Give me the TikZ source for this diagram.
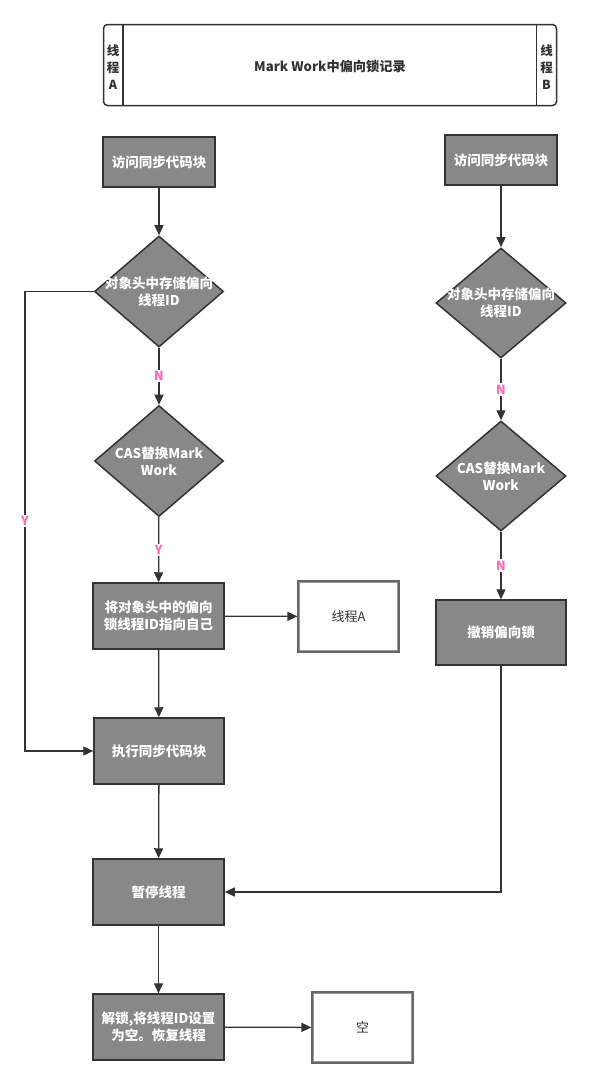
\documentclass[tikz,border=0pt]{standalone}
\usepackage{fontspec}
\setmainfont{Noto Sans CJK SC}
\usetikzlibrary{shapes.geometric,arrows.meta}
\definecolor{boxgray}{HTML}{888888}
\definecolor{edgec}{HTML}{333333}
\definecolor{labc}{HTML}{FF66B3}
\definecolor{wbord}{HTML}{666666}
\definecolor{wbin}{HTML}{999999}
\begin{document}
\begin{tikzpicture}[x=1pt,y=-1pt,
  gbox/.style={draw=edgec, line width=1.5pt, fill=boxgray, text=white, align=center, inner sep=0pt,
    font=\fontsize{13.5}{17}\selectfont\bfseries},
  dec/.style={diamond, draw=edgec, line width=1.5pt, fill=boxgray, inner sep=0pt,
    minimum width=129pt, minimum height=111pt},
  dtext/.style={text=white, align=center, inner sep=0pt, font=\fontsize{13.5}{17}\selectfont\bfseries},
  wbox/.style={draw=wbord, line width=1.2pt, fill=white, text=edgec,
    align=center, minimum width=101pt, minimum height=71pt, font=\fontsize{13}{17}\selectfont},
  conn/.style={draw=edgec, line width=1.3pt, -{Triangle[length=10pt,width=9pt]}},
  elab/.style={text=labc, fill=white, inner sep=1.5pt, font=\fontsize{12.5}{14}\selectfont\bfseries},
  lane/.style={text=edgec, align=center, inner sep=0pt, font=\fontsize{12.5}{17}\selectfont\bfseries}]
\useasboundingbox (0,0) rectangle (597,1087);
\fill[white] (0,0) rectangle (597,1087);

% header
\node[draw=edgec, line width=1.5pt, rounded corners=4pt, minimum width=453pt, minimum height=81pt, inner sep=0pt] (hdr) at (330,65) {};
\draw[edgec, line width=1.3pt] (123,24.8) -- (123,105.2);
\draw[edgec, line width=1.3pt] (536.5,24.8) -- (536.5,105.2);
\node[lane] (la) at (113,67) {线\\程\\A};
\node[lane] (lb) at (546.5,67) {线\\程\\B};
\node[text=edgec, inner sep=0pt, font=\fontsize{13.2}{15}\selectfont\bfseries] (title) at (330,67) {Mark Work中偏向锁记录};

% left column
\node[gbox, minimum width=112pt, minimum height=50pt] (a1) at (159,162) {访问同步代码块};
\node[dec, label={[dtext]center:对象头中存储偏向\\线程ID}] (d1) at (159,291.5) {};
\node[dec, label={[dtext]center:CAS替换Mark\\Work}] (d2) at (159,461) {};
\node[gbox, minimum width=131pt, minimum height=66pt] (a3) at (158.5,616) {将对象头中的偏向\\锁线程ID指向自己};
\node[wbox] (ta) at (348.5,616.5) {线程A};
\draw[wbin, line width=1pt] ([shift={(2.5,2.5)}]ta.north west) rectangle ([shift={(-2.5,-2.5)}]ta.south east);
\node[gbox, minimum width=130pt, minimum height=66pt] (a4) at (159,751) {执行同步代码块};
\node[gbox, minimum width=131pt, minimum height=66pt] (a5) at (158.5,892) {暂停线程};
\node[gbox, minimum width=131pt, minimum height=66pt] (a6) at (158.5,1027) {解锁,将线程ID设置\\为空。恢复线程};
\node[wbox] (tk) at (362.5,1027.5) {空};
\draw[wbin, line width=1pt] ([shift={(2.5,2.5)}]tk.north west) rectangle ([shift={(-2.5,-2.5)}]tk.south east);

% right column
\node[gbox, minimum width=112pt, minimum height=50pt] (b1) at (501,160) {访问同步代码块};
\node[dec, minimum width=130pt, minimum height=110pt, label={[dtext]center:对象头中存储偏向\\线程ID}] (e1) at (501,303) {};
\node[dec, minimum width=130pt, minimum height=110pt, label={[dtext]center:CAS替换Mark\\Work}] (e2) at (501,476) {};
\node[gbox, minimum width=130pt, minimum height=65pt] (b3) at (501,632.5) {撤销偏向锁};

\coordinate (lp) at (25,291.5);

% connectors left
\draw[conn] (a1) -- (d1);
\draw[conn] (d1) -- node[elab]{N} (d2);
\draw[conn] (d2) -- node[elab]{Y} (a3);
\draw[conn] (a3) -- (ta);
\draw[conn] (a3) -- (a4);
\draw[conn] (d1.west) -- (lp) |- node[elab, pos=0.25]{Y} (a4.west);
\draw[conn] (a4) -- (a5);
\draw[conn] (a5) -- (a6);
\draw[conn] (a6) -- (tk);

% connectors right
\draw[conn] (b1) -- (e1);
\draw[conn] (e1) -- node[elab]{N} (e2);
\draw[conn] (e2) -- node[elab]{N} (b3);
\draw[conn] (b3.south) |- (a5.east);
\end{tikzpicture}
\end{document}
